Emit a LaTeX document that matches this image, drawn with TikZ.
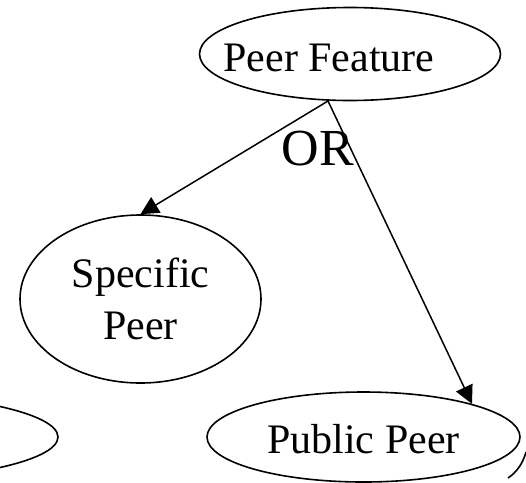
\documentclass[tikz,border=0pt]{standalone}
\usepackage{fontspec}
\setmainfont{Liberation Serif}
\usetikzlibrary{positioning,shapes,arrows.meta}
\tikzset {
    style A/.style={
        draw=black,
        line width=1.6pt,
        ellipse, % Set the shape as an ellipse
        inner sep=0pt,
        align=center,
    },
    style B/.style={
        draw=black,
        line width=1.5pt,
        -{Triangle[length=18pt,width=18pt]},
    },
}

\begin{document}
\begin{tikzpicture}
[x=1pt, y=-1pt, font=\fontsize{42}{52}\selectfont]
\useasboundingbox (0,0) rectangle (526,482);
\clip (0,0) rectangle (526,482);

\node[style A, minimum width=301pt, minimum height=93pt, text height=34pt, text depth=0pt] at (350, 54) (feature) {\hspace*{-42pt}Peer Feature};
\node[style A, minimum width=241pt, minimum height=168pt] at (140.5, 299) (specific) {Specific\\Peer};
\node[style A, minimum width=313pt, minimum height=90pt, text height=32pt, text depth=0pt] at (363.5, 437) (public) {Public Peer};
\node[style A, minimum width=438pt, minimum height=90pt] at (-161, 437) (other) {};
\node[inner sep=0pt, anchor=base, font=\fontsize{52}{60}\selectfont] at (318, 165) (or) {OR};

\coordinate (fork) at (328, 101);
\draw[style B] (fork) -- (specific.north);
\draw[style B] (fork) -- (public.17);
\draw[line width=1.6pt] (508, 478) .. controls (517, 472) and (523, 463) .. (526, 452);
\end{tikzpicture}
\end{document}
